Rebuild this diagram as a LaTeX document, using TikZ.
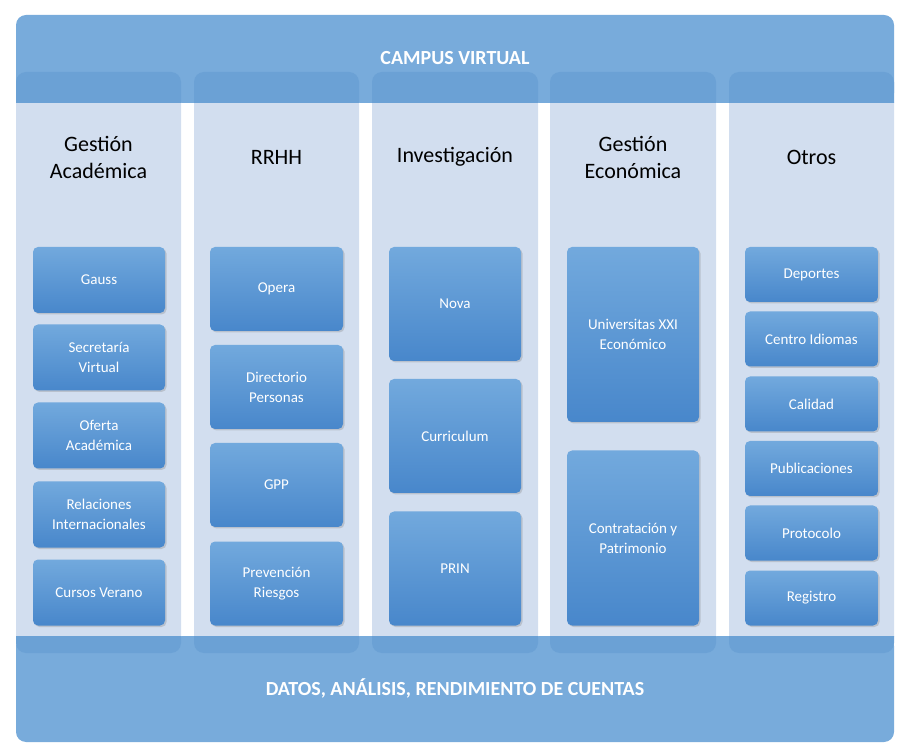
\documentclass[tikz,border=0pt]{standalone}
\usepackage{fontspec}
\setmainfont{Carlito}
\usetikzlibrary{shadows}
\definecolor{banner}{HTML}{78ABDB}
\definecolor{bannerdark}{HTML}{6BA1D5}
\definecolor{column}{HTML}{D2DEEF}
\definecolor{boxtop}{HTML}{72A9DD}
\definecolor{boxbot}{HTML}{4887CB}
\begin{document}
\begin{tikzpicture}[x=1pt, y=-1pt,
               banner_style/.style={fill=banner, rounded corners=10pt},
               column_style/.style={fill=column, rounded corners=10pt},
               title_style/.style={font=\fontsize{22}{27}\selectfont, align=center, text=black},
               box_style/.style={rounded corners=5pt, top color=boxtop, bottom color=boxbot, draw=none,
                  drop shadow={shadow xshift=1.5pt, shadow yshift=-1.5pt, opacity=0.3},
                  text=white, align=center, font=\fontsize{15}{20}\selectfont, inner sep=2pt},
               banner_text/.style={text=white, font=\fontsize{20}{24}\selectfont\bfseries}]
    \useasboundingbox (0,0) rectangle (906,751);
    % banners
    \fill[banner_style] (16,15) rectangle (894,103);
    \fill[banner_style] (16,636) rectangle (894,742);
    % columns
    \foreach \xa/\xb in {16/181, 194/359, 372/538, 550/716, 729/894} {
        \begin{scope}
            \clip (0,103) rectangle (906,636);
            \fill[column_style] (\xa,72) rectangle (\xb,653);
        \end{scope}
        \begin{scope}
            \clip (0,0) rectangle (906,103) (0,636) rectangle (906,751);
            \fill[column_style, fill=bannerdark] (\xa,72) rectangle (\xb,653);
        \end{scope}
    }
    \node[banner_text] (campus) at (455,58) {CAMPUS VIRTUAL};
    \node[banner_text] (datos) at (455,688) {DATOS, ANÁLISIS, RENDIMIENTO DE CUENTAS};

    % column titles
    \node[title_style] (t1) at (98.5,157) {Gestión\\Académica};
    \node[title_style] (t2) at (276.5,157) {RRHH};
    \node[title_style] (t3) at (455,157) {Investigación};
    \node[title_style] (t4) at (633,157) {Gestión\\Económica};
    \node[title_style] (t5) at (811.5,157) {Otros};

    % Gestion Academica
    \node[box_style, minimum width=132pt, minimum height=66pt] (gauss) at (99,280) {Gauss};
    \node[box_style, minimum width=132pt, minimum height=66pt] (secretaria) at (99,357.5) {Secretaría\\Virtual};
    \node[box_style, minimum width=132pt, minimum height=66pt] (oferta) at (99,435.5) {Oferta\\Académica};
    \node[box_style, minimum width=132pt, minimum height=66pt] (relaciones) at (99,514.5) {Relaciones\\Internacionales};
    \node[box_style, minimum width=132pt, minimum height=66pt] (cursos) at (99,592.5) {Cursos Verano};

    % RRHH
    \node[box_style, minimum width=133pt, minimum height=84pt] (opera) at (276.5,289) {Opera};
    \node[box_style, minimum width=133pt, minimum height=84pt] (directorio) at (276.5,387) {Directorio\\Personas};
    \node[box_style, minimum width=133pt, minimum height=84pt] (gpp) at (276.5,485) {GPP};
    \node[box_style, minimum width=133pt, minimum height=84pt] (prevencion) at (276.5,583.5) {Prevención\\Riesgos};

    % Investigacion
    \node[box_style, minimum width=132pt, minimum height=114pt] (nova) at (455,304) {Nova};
    \node[box_style, minimum width=132pt, minimum height=114pt] (curriculum) at (455,436) {Curriculum};
    \node[box_style, minimum width=132pt, minimum height=114pt] (prin) at (455,568.5) {PRIN};

    % Gestion Economica
    \node[box_style, minimum width=132pt, minimum height=175pt] (universitas) at (633,334.5) {Universitas XXI\\Económico};
    \node[box_style, minimum width=132pt, minimum height=175pt] (contratacion) at (633,538) {Contratación y\\Patrimonio};

    % Otros
    \node[box_style, minimum width=133pt, minimum height=55pt] (deportes) at (811.5,274.5) {Deportes};
    \node[box_style, minimum width=133pt, minimum height=55pt] (idiomas) at (811.5,339) {Centro Idiomas};
    \node[box_style, minimum width=133pt, minimum height=55pt] (calidad) at (811.5,404) {Calidad};
    \node[box_style, minimum width=133pt, minimum height=55pt] (publicaciones) at (811.5,468.5) {Publicaciones};
    \node[box_style, minimum width=133pt, minimum height=55pt] (protocolo) at (811.5,533) {Protocolo};
    \node[box_style, minimum width=133pt, minimum height=55pt] (registro) at (811.5,598) {Registro};
\end{tikzpicture}
\end{document}
